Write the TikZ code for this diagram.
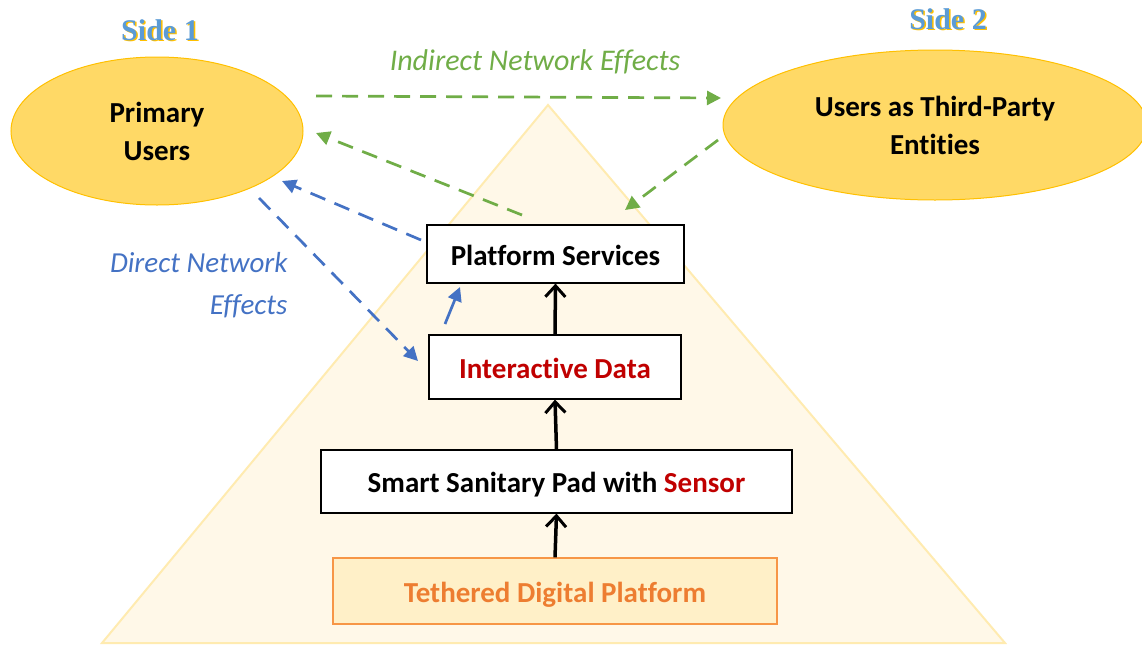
\documentclass[tikz,border=0pt]{standalone}
\usepackage{fontspec}
\setmainfont{Carlito}[Ligatures=NoCommon]
\newfontfamily\sidefont{Liberation Serif}
\usetikzlibrary{arrows.meta,shapes.geometric}
\definecolor{trifill}{HTML}{FFF8E8}
\definecolor{triedge}{HTML}{FFEBB0}
\definecolor{ellfill}{HTML}{FFD966}
\definecolor{elledge}{HTML}{FFC000}
\definecolor{grn}{HTML}{70AD47}
\definecolor{blu}{HTML}{4472C4}
\definecolor{sideblue}{HTML}{5B9BD5}
\definecolor{redtxt}{HTML}{C00000}
\definecolor{orgtxt}{HTML}{ED7D31}
\definecolor{orgedge}{HTML}{F79646}
\definecolor{tethfill}{HTML}{FFF0C8}
\newcommand{\lowtxt}[1]{\raisebox{-4pt}[20pt][6pt]{#1}}
\begin{document}
\begin{tikzpicture}[x=1pt,y=-1pt,
  ell/.style={ellipse,draw=elledge,fill=ellfill,line width=1pt,align=center,font=\fontsize{29}{38}\selectfont\bfseries},
  boxnode/.style={draw=black,line width=1.2pt,fill=white,minimum height=0pt,inner sep=0pt,font=\fontsize{29}{34}\selectfont\bfseries},
  blk/.style={-{Straight Barb[length=11pt,width=20pt,line width=3pt]},line width=3.5pt},
  gdash/.style={draw=grn,line width=2.7pt,dash pattern=on 16pt off 10pt,-{Triangle[length=14pt,width=14pt]}},
  bdash/.style={draw=blu,line width=2.7pt,dash pattern=on 16pt off 10pt,-{Triangle[length=14pt,width=14pt]}},
  sidelbl/.style={font=\fontsize{30}{34}\selectfont\sidefont\bfseries,text=sideblue}
]
\useasboundingbox (0,0) rectangle (1142,648);
\fill[trifill,draw=triedge,line width=2pt] (548,105) -- (1005,643) -- (102,643) -- cycle;

\node[ell,minimum width=292pt,minimum height=148pt] (pu) at (157,131) {Primary\\Users};
\node[ell,minimum width=424pt,minimum height=150pt] (tp) at (935,125) {Users as Third-Party\\Entities};

\node[boxnode,minimum width=257pt,minimum height=58pt] (ps) at (555.5,254) {\lowtxt{Platform Services}};
\node[boxnode,minimum width=252pt,minimum height=64pt] (id) at (555,367) {\lowtxt{\textcolor{redtxt}{Interactive Data}}};
\node[boxnode,minimum width=471pt,minimum height=63pt] (sp) at (556.5,481.5) {\lowtxt{Smart Sanitary Pad with \textcolor{redtxt}{Sensor}}};
\node[draw=orgedge,line width=1.2pt,fill=tethfill,minimum width=444pt,minimum height=66pt,inner sep=0pt,font=\fontsize{29}{34}\selectfont\bfseries,text=orgtxt] (tdp) at (555,591) {\lowtxt{Tethered Digital Platform}};

\draw[blk] (tdp.north) -- (sp.south);
\draw[blk] (sp.north) -- (id.south);
\draw[blk] (id.north) -- (ps.south);

\coordinate (g1s) at (316,96);
\coordinate (g1e) at (721,98);
\coordinate (g2s) at (522,215);
\coordinate (g2e) at (316,133);
\coordinate (g3s) at (718,140);
\coordinate (g3e) at (625,210);
\draw[gdash] (g1s) -- (g1e);
\draw[gdash] (g2s) -- (g2e);
\draw[gdash] (g3s) -- (g3e);

\coordinate (b1s) at (421,240);
\coordinate (b1e) at (282,181);
\coordinate (b2s) at (259,198);
\coordinate (b2e) at (418,361);
\coordinate (b3s) at (445,324);
\coordinate (b3e) at (460,287);
\draw[bdash] (b1s) -- (b1e);
\draw[bdash] (b2s) -- (b2e);
\draw[bdash,dash pattern=on 30pt off 0pt] (b3s) -- (b3e);

\node[font=\fontsize{30}{34}\selectfont\itshape,text=grn] (ine) at (535,62) {Indirect Network Effects};
\node[font=\fontsize{29}{42}\selectfont\itshape,text=blu,align=right,anchor=east] (dne) at (291,285) {Direct Network\\Effects};

\node[sidelbl,text=elledge] at (161.5,31.5) {Side 1};
\node[sidelbl] (s1) at (160,30) {Side 1};
\node[sidelbl,text=elledge] at (949.5,20.5) {Side 2};
\node[sidelbl] (s2) at (948,19) {Side 2};
\end{tikzpicture}
\end{document}
